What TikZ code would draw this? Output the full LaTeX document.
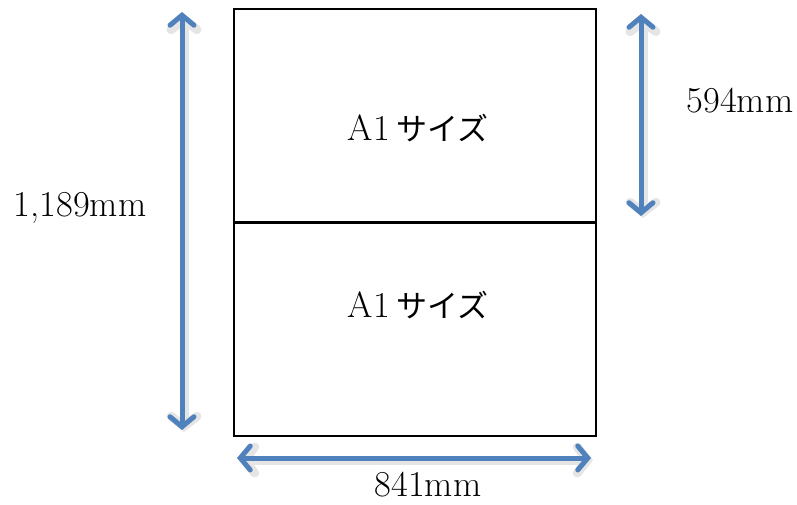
\documentclass[tikz,border=0pt]{standalone}
\usepackage{fontspec}
\newfontfamily\cjk{Noto Sans CJK JP}
\usetikzlibrary{arrows.meta}
\definecolor{dimblue}{HTML}{4F81BD}
\begin{document}
\begin{tikzpicture}[x=1pt,y=1pt,
  sheet/.style={draw=black,line width=1.6pt},
  dimline/.style={draw=dimblue,line width=5pt,
    {Straight Barb[length=10pt,width=24pt,line cap=round]}-{Straight Barb[length=10pt,width=24pt,line cap=round]}},
  dimshadow/.style={draw=black!10,line width=9pt,line cap=round,
    {Straight Barb[length=10pt,width=26pt,line cap=round]}-{Straight Barb[length=10pt,width=26pt,line cap=round]}},
  lbl/.style={font=\fontsize{36.5}{42}\selectfont,inner sep=0pt}]
\useasboundingbox (0,0) rectangle (797,504);
% sheets
\node[sheet,minimum width=362pt,minimum height=213pt,anchor=north west,inner sep=0pt] (top) at (233,496) {};
\node[sheet,minimum width=362pt,minimum height=213pt,anchor=north west,inner sep=0pt] (bot) at (233,282) {};
\node[lbl] (t1) at (418,376) {A1\,{\cjk\fontsize{31}{36}\selectfont サイズ}};
\node[lbl] (t2) at (418,199) {A1\,{\cjk\fontsize{31}{36}\selectfont サイズ}};
% dimension coordinates
\coordinate (la) at (182,492);
\coordinate (lb) at (182,74);
\coordinate (ra) at (641,490);
\coordinate (rb) at (641,288);
\coordinate (ba) at (237,46);
\coordinate (bb) at (591,46);
% shadows
\draw[dimshadow] ([shift={(2,-2)}]la) -- ([shift={(2,-2)}]lb);
\draw[dimshadow] ([shift={(2,-2)}]ra) -- ([shift={(2,-2)}]rb);
\draw[dimshadow] ([shift={(2,-2)}]ba) -- ([shift={(2,-2)}]bb);
% arrows
\draw[dimline] (la) -- (lb);
\draw[dimline] (ra) -- (rb);
\draw[dimline] (ba) -- (bb);
% labels
\node[lbl] (lh) at (80,296) {1,189mm};
\node[lbl] (lr) at (740,403) {594mm};
\node[lbl] (lw) at (428,19) {841mm};
\end{tikzpicture}
\end{document}
